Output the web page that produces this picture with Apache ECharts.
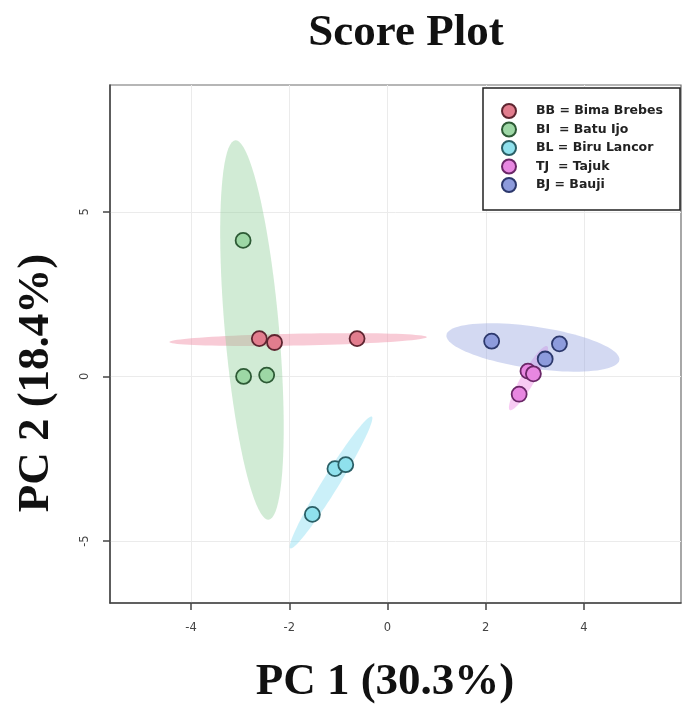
<!DOCTYPE html>
<html>
<head>
<meta charset="utf-8">
<title>Score Plot</title>
<script src="https://cdn.jsdelivr.net/npm/echarts@6.0.0/dist/echarts.min.js"></script>
<style>
  html, body { margin: 0; padding: 0; background: #fff; }
  #score-chart { width: 700px; height: 717px; }
</style>
</head>
<body>
<div id="score-chart"></div>
<script>
// 分组名称（图例文字）
var groupNames = ['BB = Bima Brebes', 'BI  = Batu Ijo', 'BL = Biru Lancor', 'TJ  = Tajuk', 'BJ = Bauji'];

// 各组样本得分 [PC1, PC2]
var bbScores = [[-2.61, 1.15], [-2.30, 1.03], [-0.62, 1.15]];
var biScores = [[-2.94, 4.13], [-2.93, 0.00], [-2.46, 0.04]];
var blScores = [[-1.07, -2.80], [-0.85, -2.68], [-1.53, -4.19]];
var tjScores = [[2.86, 0.16], [2.97, 0.08], [2.68, -0.54]];
var bjScores = [[2.12, 1.07], [3.50, 0.99], [3.21, 0.53]];

// 置信椭圆：中心、长半轴向量、短半轴向量（数据单位）
var ellipseCenters = [[-1.82, 1.12], [-2.76, 1.41], [-1.15, -3.22], [2.87, -0.05], [2.96, 0.88]];
var ellipseMajor = [[2.62, 0.075], [0.34, -5.76], [0.83, 2.00], [0.38, 0.97], [1.76, -0.38]];
var ellipseMinor = [[-0.002, 0.18], [0.55, 0.07], [0.14, -0.13], [0.12, -0.11], [0.06, 0.63]];

// 坐标轴范围与刻度
var xMin = -5.65, xMax = 5.975;
var yMin = -6.88, yMax = 8.85;
var xTicks = [-4, -2, 0, 2, 4];
var yTicks = [-5, 0, 5];

// 颜色
var fillColors = ['#e27d8e', '#9dd7a5', '#8fe1ed', '#e887e1', '#8d9bdc'];
var borderColors = ['#5e2530', '#2d5a35', '#2b5f66', '#6a2767', '#2c386c'];
var ellipseColors = [
  'rgba(240,140,165,0.45)',
  'rgba(140,205,150,0.40)',
  'rgba(130,220,240,0.42)',
  'rgba(240,140,230,0.45)',
  'rgba(150,165,225,0.42)'
];

var allScores = [bbScores, biScores, blScores, tjScores, bjScores];

function renderScorePlot() {
  var chartDom = document.getElementById('score-chart');
  var myChart = echarts.init(chartDom, null, { renderer: 'canvas' });

  // 椭圆：用自定义系列画多边形
  var ellipseSeries = {
    type: 'custom',
    name: 'ellipses',
    silent: true,
    z: 1,
    data: ellipseCenters,
    renderItem: function (params, api) {
      var i = params.dataIndex;
      var c = ellipseCenters[i];
      var M = ellipseMajor[i];
      var m = ellipseMinor[i];
      var pts = [];
      for (var k = 0; k < 90; k++) {
        var t = k / 90 * Math.PI * 2;
        pts.push(api.coord([
          c[0] + Math.cos(t) * M[0] + Math.sin(t) * m[0],
          c[1] + Math.cos(t) * M[1] + Math.sin(t) * m[1]
        ]));
      }
      return {
        type: 'polygon',
        shape: { points: pts },
        style: { fill: ellipseColors[i], stroke: null }
      };
    }
  };

  var scatterSeries = allScores.map(function (scores, i) {
    return {
      type: 'scatter',
      name: groupNames[i],
      data: scores,
      symbol: 'circle',
      symbolSize: 15,
      z: 3,
      itemStyle: {
        color: fillColors[i],
        borderColor: borderColors[i],
        borderWidth: 1.8,
        opacity: 1
      },
      emphasis: { disabled: true }
    };
  });

  var axisColor = '#444';
  var labelFont = '"DejaVu Sans", sans-serif';

  var option = {
    animation: false,
    backgroundColor: '#fff',
    grid: {
      left: 110,
      top: 85,
      width: 571,
      height: 518,
      show: true,
      borderColor: '#6e6e6e',
      borderWidth: 1.2,
      containLabel: false,
      outerBoundsMode: 'none'
    },
    xAxis: {
      type: 'value',
      min: xMin,
      max: xMax,
      axisLine: { show: true, onZero: false, lineStyle: { color: axisColor, width: 1.5 } },
      axisTick: { show: true, length: 7, customValues: xTicks, lineStyle: { color: axisColor, width: 1.5 } },
      axisLabel: {
        customValues: xTicks,
        margin: 19,
        fontSize: 11.5,
        color: '#444',
        fontFamily: labelFont
      },
      splitLine: { show: true, lineStyle: { color: '#ebebeb', width: 1 } }
    },
    yAxis: {
      type: 'value',
      min: yMin,
      max: yMax,
      axisLine: { show: true, onZero: false, lineStyle: { color: axisColor, width: 1.5 } },
      axisTick: { show: true, length: 7, customValues: yTicks, lineStyle: { color: axisColor, width: 1.5 } },
      axisLabel: {
        customValues: yTicks,
        rotate: 90,
        margin: 19,
        fontSize: 11.5,
        color: '#444',
        fontFamily: labelFont
      },
      splitLine: { show: true, lineStyle: { color: '#ebebeb', width: 1 } }
    },
    legend: {
      data: groupNames,
      orient: 'vertical',
      left: 501,
      top: 103,
      padding: 0,
      icon: 'circle',
      itemWidth: 44,
      itemHeight: 14,
      itemGap: 2.5,
      z: 10,
      selectedMode: false,
      textStyle: {
        fontFamily: labelFont,
        fontWeight: 'bold',
        fontSize: 12.5,
        lineHeight: 14,
        color: '#222'
      }
    },
    graphic: [
      {
        type: 'rect',
        z: 9,
        silent: true,
        shape: { x: 483, y: 88, width: 197, height: 122 },
        style: { fill: '#fff', stroke: '#222', lineWidth: 1.5 }
      },
      {
        type: 'text',
        x: 406,
        y: 33,
        silent: true,
        style: {
          text: 'Score Plot',
          textAlign: 'center',
          textVerticalAlign: 'middle',
          font: 'bold 45px "Liberation Serif", serif',
          fill: '#111'
        }
      },
      {
        type: 'text',
        x: 385,
        y: 682,
        silent: true,
        style: {
          text: 'PC 1 (30.3%)',
          textAlign: 'center',
          textVerticalAlign: 'middle',
          font: 'bold 45px "Liberation Serif", serif',
          fill: '#111'
        }
      },
      {
        type: 'text',
        x: 36,
        y: 383,
        rotation: Math.PI / 2,
        silent: true,
        style: {
          text: 'PC 2 (18.4%)',
          textAlign: 'center',
          textVerticalAlign: 'middle',
          font: 'bold 45px "Liberation Serif", serif',
          fill: '#111'
        }
      }
    ],
    series: [ellipseSeries].concat(scatterSeries)
  };

  myChart.setOption(option);

  window.addEventListener('resize', function () {
    myChart.resize();
  });
}

renderScorePlot();
</script>
</body>
</html>
